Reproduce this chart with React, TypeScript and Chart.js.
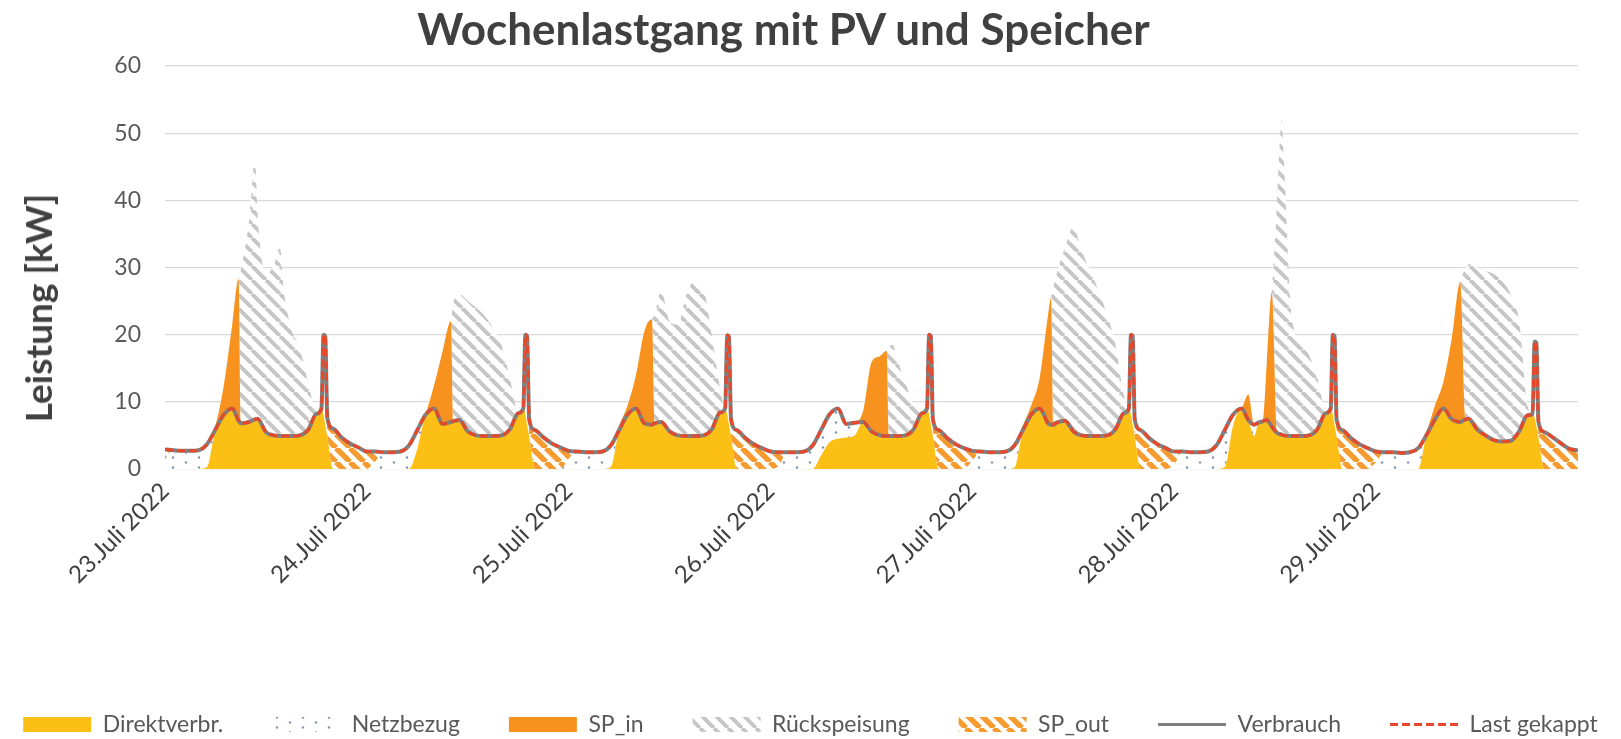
import React, { useEffect, useRef } from 'react';
import { Chart, registerables } from 'chart.js';

Chart.register(...registerables);

const dayLabels = ['23.Juli 2022', '24.Juli 2022', '25.Juli 2022', '26.Juli 2022', '27.Juli 2022', '28.Juli 2022', '29.Juli 2022'];

// hours since 23.07.2022 00:00
const hours = [
  0, 1, 2, 3, 4, 5, 6, 7, 8, 8.75, 9, 10, 10.7, 11, 12, 13, 13.7, 14, 15, 16, 17, 18, 18.6, 18.85, 19.05, 19.3, 20, 21, 22, 23,
  24, 25, 26, 27, 28, 29, 30, 31, 32, 33, 34, 34.25, 35, 36, 37, 38, 39, 40, 41, 42, 42.6, 42.85, 43.05, 43.3, 44, 45, 46, 47,
  48, 49, 50, 51, 52, 53, 54, 55, 56, 57, 57.9, 58.2, 59, 60, 61, 62, 63, 64, 65, 66, 66.6, 66.85, 67.05, 67.3, 68, 69, 70, 71,
  72, 73, 74, 75, 76, 77, 78, 79, 80, 81, 82, 83, 84, 85, 85.8, 86.05, 86.5, 87, 88, 89, 90, 90.6, 90.85, 91.05, 91.3, 92, 93, 94, 95,
  96, 97, 98, 99, 100, 101, 102, 103, 104, 105, 105.35, 105.6, 106, 107, 108, 109, 110, 111, 112, 113, 114, 114.6, 114.85, 115.05, 115.3, 116, 117, 118, 119,
  120, 121, 122, 123, 124, 125, 126, 127, 128, 128.8, 129.5, 130, 130.5, 131, 131.6, 132.2, 132.8, 133, 134, 135, 136, 137, 138, 138.6, 138.85, 139.05, 139.3, 140, 141, 142, 143,
  144, 145, 146, 147, 148, 149, 150, 151, 152, 153, 154, 154.6, 155, 156, 157, 158, 159, 160, 161, 162, 162.6, 162.85, 163.05, 163.3, 164, 165, 166, 167, 168,
];

const verbrauch = [
  2.9, 2.8, 2.7, 2.7, 2.8, 3.7, 5.9, 8.1, 9.0, 7.2, 6.8, 7.0, 7.4, 7.5, 5.5, 5.0, 4.9, 4.9, 4.9, 5.0, 5.8, 8.2, 9.0, 20.0, 19.8, 7.6, 6.0, 4.7, 3.8, 3.2,
  2.6, 2.6, 2.5, 2.5, 2.6, 3.5, 5.8, 8.1, 9.0, 6.7, 7.0, 7.1, 7.3, 5.6, 5.0, 4.9, 4.9, 5.0, 5.9, 8.3, 9.0, 20.0, 19.8, 7.4, 5.8, 4.7, 3.8, 3.2,
  2.7, 2.6, 2.5, 2.5, 2.6, 3.5, 5.8, 8.1, 9.0, 6.8, 6.6, 6.8, 7.0, 5.6, 5.0, 4.9, 4.9, 5.0, 5.9, 8.4, 9.0, 19.9, 19.7, 7.4, 5.8, 4.6, 3.7, 3.1,
  2.6, 2.5, 2.5, 2.5, 2.6, 3.5, 5.8, 8.1, 9.0, 6.7, 6.9, 7.0, 5.6, 5.0, 4.9, 4.9, 4.9, 4.9, 5.0, 5.9, 8.3, 9.0, 20.0, 19.8, 7.4, 5.8, 4.6, 3.7, 3.1,
  2.7, 2.6, 2.5, 2.5, 2.6, 3.5, 5.8, 8.1, 9.0, 6.8, 6.6, 6.6, 6.9, 7.2, 5.6, 5.0, 4.9, 4.9, 5.0, 5.9, 8.3, 9.0, 20.0, 19.8, 7.4, 5.8, 4.6, 3.7, 3.1,
  2.6, 2.6, 2.5, 2.5, 2.6, 3.5, 5.8, 8.1, 9.0, 7.3, 6.6, 6.9, 7.1, 7.3, 6.3, 5.4, 5.1, 5.0, 4.9, 4.9, 5.0, 5.9, 8.3, 9.0, 20.0, 19.8, 7.4, 5.8, 4.6, 3.7, 3.1,
  2.6, 2.5, 2.5, 2.4, 2.5, 3.1, 5.1, 7.4, 9.0, 7.4, 7.0, 7.4, 7.5, 5.9, 5.0, 4.3, 4.1, 4.2, 5.6, 8.0, 8.2, 19.0, 18.8, 7.0, 5.5, 4.7, 3.8, 3.0, 2.8,
];

const lastGekappt = [
  2.9, 2.8, 2.7, 2.7, 2.8, 3.7, 5.9, 8.1, 9.0, 7.2, 6.8, 7.0, 7.4, 7.5, 5.5, 5.0, 4.9, 4.9, 4.9, 5.0, 5.8, 8.2, 9.0, 20.0, 19.8, 7.6, 6.0, 4.7, 3.8, 3.2,
  2.6, 2.6, 2.5, 2.5, 2.6, 3.5, 5.8, 8.1, 9.0, 6.7, 7.0, 7.1, 7.3, 5.6, 5.0, 4.9, 4.9, 5.0, 5.9, 8.3, 9.0, 20.0, 19.8, 7.4, 5.8, 4.7, 3.8, 3.2,
  2.7, 2.6, 2.5, 2.5, 2.6, 3.5, 5.8, 8.1, 9.0, 6.8, 6.6, 6.8, 7.0, 5.6, 5.0, 4.9, 4.9, 5.0, 5.9, 8.4, 9.0, 19.9, 19.7, 7.4, 5.8, 4.6, 3.7, 3.1,
  2.6, 2.5, 2.5, 2.5, 2.6, 3.5, 5.8, 8.1, 9.0, 6.7, 6.9, 7.0, 5.6, 5.0, 4.9, 4.9, 4.9, 4.9, 5.0, 5.9, 8.3, 9.0, 20.0, 19.8, 7.4, 5.8, 4.6, 3.7, 3.1,
  2.7, 2.6, 2.5, 2.5, 2.6, 3.5, 5.8, 8.1, 9.0, 6.8, 6.6, 6.6, 6.9, 7.2, 5.6, 5.0, 4.9, 4.9, 5.0, 5.9, 8.3, 9.0, 20.0, 19.8, 7.4, 5.8, 4.6, 3.7, 3.1,
  2.6, 2.6, 2.5, 2.5, 2.6, 3.5, 5.8, 8.1, 9.0, 7.3, 6.6, 6.9, 7.1, 7.3, 6.3, 5.4, 5.1, 5.0, 4.9, 4.9, 5.0, 5.9, 8.3, 9.0, 20.0, 19.8, 7.4, 5.8, 4.6, 3.7, 3.1,
  2.6, 2.5, 2.5, 2.4, 2.5, 3.1, 5.1, 7.4, 9.0, 7.4, 7.0, 7.4, 7.5, 5.9, 5.0, 4.3, 4.1, 4.2, 5.6, 8.0, 8.2, 19.0, 18.8, 7.0, 5.5, 4.7, 3.8, 3.0, 2.8,
];

const direktverbr = [
  0, 0, 0, 0, 0, 0.3, 5.9, 8.1, 9.0, 7.2, 6.8, 7.0, 7.4, 7.5, 5.5, 5.0, 4.9, 4.9, 4.9, 5.0, 5.8, 8.2, 9.0, 8.1, 6.6, 4.8, 0, 0, 0, 0,
  0, 0, 0, 0, 0, 0, 3.0, 8.1, 9.0, 6.7, 7.0, 7.1, 7.3, 5.6, 5.0, 4.9, 4.9, 5.0, 5.9, 8.3, 9.0, 8.1, 6.6, 4.8, 0, 0, 0, 0,
  0, 0, 0, 0, 0, 0.3, 5.8, 8.1, 9.0, 6.8, 6.6, 6.8, 7.0, 5.6, 5.0, 4.9, 4.9, 5.0, 5.9, 8.4, 9.0, 8.1, 6.6, 4.8, 0, 0, 0, 0,
  0, 0, 0, 0, 0, 0, 2.0, 4.0, 4.5, 4.7, 5.0, 7.0, 5.6, 5.0, 4.9, 4.9, 4.9, 4.9, 5.0, 5.9, 8.3, 9.0, 8.1, 6.6, 4.8, 0, 0, 0, 0,
  0, 0, 0, 0, 0, 0.2, 5.8, 8.1, 9.0, 6.8, 6.6, 6.6, 6.9, 7.2, 5.6, 5.0, 4.9, 4.9, 5.0, 5.9, 8.3, 9.0, 8.1, 6.6, 4.8, 0, 0, 0, 0,
  0, 0, 0, 0, 0, 0, 0.3, 6.5, 9.0, 7.3, 4.9, 6.9, 7.1, 7.3, 6.3, 5.4, 5.1, 5.0, 4.9, 4.9, 5.0, 5.9, 8.3, 9.0, 8.1, 6.6, 4.8, 0, 0, 0, 0,
  0, 0, 0, 0, 0, 0, 5.1, 7.4, 9.0, 7.4, 7.0, 7.4, 7.5, 5.9, 5.0, 4.3, 4.1, 4.2, 5.6, 8.0, 8.2, 7.6, 6.4, 4.6, 0, 0, 0, 0, 0,
];

const netzbezug = [
  1.4, 2.8, 2.7, 2.7, 2.8, 3.4, 0, 0, 0, 0, 0, 0, 0, 0, 0, 0, 0, 0, 0, 0, 0, 0, 0, 11.9, 13.2, 0, 0, 0, 0, 0,
  0, 1.1, 2.5, 2.5, 2.6, 3.5, 2.8, 0, 0, 0, 0, 0, 0, 0, 0, 0, 0, 0, 0, 0, 0, 11.9, 13.2, 0, 0, 0, 0, 0,
  1.5, 2.6, 2.5, 2.5, 2.6, 3.2, 0, 0, 0, 0, 0, 0, 0, 0, 0, 0, 0, 0, 0, 0, 0, 11.8, 13.1, 0, 0, 0, 0, 0,
  0, 0.5, 2.5, 2.5, 2.6, 3.5, 3.8, 4.1, 4.5, 2.0, 1.9, 0, 0, 0, 0, 0, 0, 0, 0, 0, 0, 0, 11.9, 13.2, 0, 0, 0, 0, 0,
  1.2, 2.6, 2.5, 2.5, 2.6, 3.3, 0, 0, 0, 0, 0, 0, 0, 0, 0, 0, 0, 0, 0, 0, 0, 0, 11.9, 13.2, 0, 0, 0, 0, 0,
  0.6, 2.6, 2.5, 2.5, 2.6, 3.5, 5.5, 1.6, 0, 0, 1.7, 0, 0, 0, 0, 0, 0, 0, 0, 0, 0, 0, 0, 0, 11.9, 13.2, 0, 0, 0, 0, 0,
  1.0, 2.5, 2.5, 2.4, 2.5, 3.1, 0, 0, 0, 0, 0, 0, 0, 0, 0, 0, 0, 0, 0, 0, 0, 11.4, 12.4, 0, 0, 0, 0, 0, 0,
];

const spIn = [
  0, 0, 0, 0, 0, 0, 0.6, 4.4, 12.5, 21.1, 0, 0, 0, 0, 0, 0, 0, 0, 0, 0, 0, 0, 0, 0, 0, 0, 0, 0, 0, 0,
  0, 0, 0, 0, 0, 0, 0, 0.2, 3.5, 10.8, 15.0, 0, 0, 0, 0, 0, 0, 0, 0, 0, 0, 0, 0, 0, 0, 0, 0, 0,
  0, 0, 0, 0, 0, 0, 0.7, 1.4, 5.0, 13.7, 15.7, 0, 0, 0, 0, 0, 0, 0, 0, 0, 0, 0, 0, 0, 0, 0, 0, 0,
  0, 0, 0, 0, 0, 0, 0, 0, 0, 0, 0, 1.6, 10.3, 11.8, 12.7, 0, 0, 0, 0, 0, 0, 0, 0, 0, 0, 0, 0, 0, 0,
  0, 0, 0, 0, 0, 0, 0.7, 1.4, 4.6, 16.2, 18.9, 0, 0, 0, 0, 0, 0, 0, 0, 0, 0, 0, 0, 0, 0, 0, 0, 0, 0,
  0, 0, 0, 0, 0, 0, 0, 0, 0, 3.8, 0, 0, 0, 8.5, 20.0, 0, 0, 0, 0, 0, 0, 0, 0, 0, 0, 0, 0, 0, 0, 0, 0,
  0, 0, 0, 0, 0, 0, 0.5, 2.1, 4.0, 12.1, 20.8, 0, 0, 0, 0, 0, 0, 0, 0, 0, 0, 0, 0, 0, 0, 0, 0, 0, 0,
];

const rueckspeisung = [
  0, 0, 0, 0, 0, 0, 0, 0, 0, 0, 22.7, 30.0, 38.6, 30.5, 23.5, 25.5, 28.1, 23.1, 16.1, 13.0, 7.2, 0.6, 0, 0, 0, 0, 0, 0, 0, 0,
  0, 0, 0, 0, 0, 0, 0, 0, 0, 0, 0, 17.4, 18.7, 19.4, 19.0, 17.9, 16.1, 13.5, 7.6, 0.3, 0, 0, 0, 0, 0, 0, 0, 0,
  0, 0, 0, 0, 0, 0, 0, 0, 0, 0, 0, 16.2, 19.5, 16.4, 16.5, 21.1, 23.1, 22.0, 14.1, 3.6, 0.1, 0, 0, 0, 0, 0, 0, 0,
  0, 0, 0, 0, 0, 0, 0, 0, 0, 0, 0, 0, 0, 0, 0, 13.2, 13.6, 11.6, 8.0, 3.6, 0.2, 0, 0, 0, 0, 0, 0, 0, 0,
  0, 0, 0, 0, 0, 0, 0, 0, 0, 0, 0, 20.4, 22.1, 25.8, 30.4, 27.5, 24.6, 21.6, 18.0, 12.6, 2.7, 0, 0, 0, 0, 0, 0, 0, 0,
  0, 0, 0, 0, 0, 0, 0, 0, 0, 0, 0, 0, 0, 0, 0, 33.6, 46.9, 42.0, 17.6, 14.1, 12.0, 7.6, 0.7, 0, 0, 0, 0, 0, 0, 0, 0,
  0, 0, 0, 0, 0, 0, 0, 0, 0, 0, 0, 22.4, 23.0, 24.1, 24.5, 24.7, 23.9, 21.8, 16.4, 1.5, 0, 0, 0, 0, 0, 0, 0, 0, 0,
];

const spOut = [
  1.5, 0, 0, 0, 0, 0, 0, 0, 0, 0, 0, 0, 0, 0, 0, 0, 0, 0, 0, 0, 0, 0, 0, 0, 0, 2.8, 6.0, 4.7, 3.8, 3.2,
  2.6, 1.5, 0, 0, 0, 0, 0, 0, 0, 0, 0, 0, 0, 0, 0, 0, 0, 0, 0, 0, 0, 0, 0, 2.6, 5.8, 4.7, 3.8, 3.2,
  1.2, 0, 0, 0, 0, 0, 0, 0, 0, 0, 0, 0, 0, 0, 0, 0, 0, 0, 0, 0, 0, 0, 0, 2.6, 5.8, 4.6, 3.7, 3.1,
  2.6, 2.0, 0, 0, 0, 0, 0, 0, 0, 0, 0, 0, 0, 0, 0, 0, 0, 0, 0, 0, 0, 0, 0, 0, 2.6, 5.8, 4.6, 3.7, 3.1,
  1.5, 0, 0, 0, 0, 0, 0, 0, 0, 0, 0, 0, 0, 0, 0, 0, 0, 0, 0, 0, 0, 0, 0, 0, 2.6, 5.8, 4.6, 3.7, 3.1,
  2.0, 0, 0, 0, 0, 0, 0, 0, 0, 0, 0, 0, 0, 0, 0, 0, 0, 0, 0, 0, 0, 0, 0, 0, 0, 0, 2.6, 5.8, 4.6, 3.7, 3.1,
  1.6, 0, 0, 0, 0, 0, 0, 0, 0, 0, 0, 0, 0, 0, 0, 0, 0, 0, 0, 0, 0, 0, 0, 2.4, 5.5, 4.7, 3.8, 3.0, 2.8,
];

const YELLOW = '#FBBF16';
const ORANGE = '#F7921E';

function makeHatch(ctx: CanvasRenderingContext2D, color: string, lw: number, size: number) {
  const c = document.createElement('canvas');
  c.width = size;
  c.height = size;
  const g = c.getContext('2d')!;
  g.fillStyle = '#ffffff';
  g.fillRect(0, 0, size, size);
  g.strokeStyle = color;
  g.lineWidth = lw;
  g.beginPath();
  for (const o of [-size, 0, size]) {
    g.moveTo(o, 0);
    g.lineTo(o + size, size);
  }
  g.stroke();
  return ctx.createPattern(c, 'repeat')!;
}

function makeDots(ctx: CanvasRenderingContext2D) {
  const c = document.createElement('canvas');
  c.width = 26;
  c.height = 10;
  const g = c.getContext('2d')!;
  g.fillStyle = '#ffffff';
  g.fillRect(0, 0, 26, 10);
  g.fillStyle = '#7F95B5';
  g.beginPath();
  g.arc(4, 2.5, 1.2, 0, Math.PI * 2);
  g.fill();
  g.beginPath();
  g.arc(17, 7.5, 1.2, 0, Math.PI * 2);
  g.fill();
  return ctx.createPattern(c, 'repeat')!;
}

export default function App() {
  const ref = useRef<HTMLCanvasElement>(null);

  useEffect(() => {
    document.body.style.margin = '0';
    const canvas = ref.current!;
    const ctx = canvas.getContext('2d')!;
    Chart.defaults.font.family = 'Lato, sans-serif';

    const grayHatch = makeHatch(ctx, '#C6C6C6', 4, 14);
    const orangeHatch = makeHatch(ctx, '#F59B2F', 5.5, 14);
    const dots = makeDots(ctx);

    const pts = (arr: number[]) => hours.map((h, i) => ({ x: h, y: arr[i] }));
    const area = (label: string, data: number[], bg: any, fill: any) => ({
      label,
      data: pts(data),
      backgroundColor: bg,
      borderColor: 'rgba(0,0,0,0)',
      borderWidth: 0,
      fill,
      stack: 'a',
      order: 2,
      pointRadius: 0,
      pointHoverRadius: 0,
      pointStyle: 'rect',
      cubicInterpolationMode: 'monotone',
      legendLineWidth: 0,
    });

    const chart = new Chart(ctx, {
      type: 'line',
      data: {
        datasets: [
          area('Direktverbr.', direktverbr, YELLOW, 'origin'),
          area('Netzbezug', netzbezug, dots, '-1'),
          area('SP_in', spIn, ORANGE, '-1'),
          area('Rückspeisung', rueckspeisung, grayHatch, '-1'),
          area('SP_out', spOut, orangeHatch, '-1'),
          {
            label: 'Verbrauch',
            data: pts(verbrauch),
            borderColor: '#7F7F7F',
            backgroundColor: '#7F7F7F',
            borderWidth: 4,
            fill: false,
            stack: 'v',
            order: 1,
            pointRadius: 0,
            pointHoverRadius: 0,
            pointStyle: 'line',
            cubicInterpolationMode: 'monotone',
            legendLineWidth: 3,
          },
          {
            label: 'Last gekappt',
            data: pts(lastGekappt),
            borderColor: '#E9472A',
            backgroundColor: '#E9472A',
            borderWidth: 3,
            borderDash: [8, 4],
            fill: false,
            stack: 'l',
            order: 0,
            pointRadius: 0,
            pointHoverRadius: 0,
            pointStyle: 'line',
            cubicInterpolationMode: 'monotone',
            legendLineWidth: 3,
          },
        ] as any,
      },
      options: {
        animation: false,
        responsive: false,
        maintainAspectRatio: false,
        events: [],
        layout: { padding: { top: 66, left: -30, right: -30, bottom: -7 } },
        plugins: {
          tooltip: { enabled: false },
          title: { display: false },
          legend: {
            display: true,
            position: 'bottom',
            labels: {
              usePointStyle: true,
              pointStyleWidth: 68,
              boxHeight: 15,
              padding: 49,
              color: '#595959',
              font: { size: 23 },
              generateLabels: (c: any) =>
                c.data.datasets.map((ds: any, i: number) => ({
                  text: ds.label,
                  fillStyle: ds.backgroundColor,
                  strokeStyle: ds.borderColor,
                  lineWidth: ds.legendLineWidth,
                  lineDash: ds.borderDash || [],
                  lineCap: 'butt',
                  pointStyle: ds.pointStyle,
                  hidden: false,
                  datasetIndex: i,
                  fontColor: '#595959',
                })),
            },
          },
        },
        scales: {
          x: {
            type: 'linear',
            min: 0,
            max: 168,
            grid: { display: false, drawTicks: false },
            border: { display: false },
            ticks: {
              stepSize: 24,
              autoSkip: false,
              maxRotation: 45,
              minRotation: 45,
              padding: 8,
              color: '#404040',
              font: { size: 24 },
              callback: (v: any) => dayLabels[Math.round(Number(v) / 24)] ?? '',
            },
            afterFit: (s: any) => {
              s.height = 195;
            },
          },
          y: {
            type: 'linear',
            stacked: true,
            min: 0,
            max: 60,
            ticks: { stepSize: 10, padding: 24, color: '#595959', font: { size: 23 } },
            grid: { color: '#D9D9D9', lineWidth: 1.3, drawTicks: false },
            border: { display: false },
            title: { display: false },
            afterFit: (s: any) => {
              s.width = 195;
            },
          },
          yR: {
            type: 'linear',
            position: 'right',
            display: true,
            grid: { display: false, drawTicks: false },
            border: { display: false },
            ticks: { display: false },
            afterFit: (s: any) => {
              s.width = 73;
            },
          },
        },
      } as any,
    });

    return () => chart.destroy();
  }, []);

  return (
    <div style={{ position: 'relative', width: 1621, height: 739, background: '#ffffff', overflow: 'hidden' }}>
      <div
        style={{
          position: 'absolute',
          left: 0,
          top: 6,
          width: 1567,
          textAlign: 'center',
          fontFamily: 'Lato, sans-serif',
          fontWeight: 700,
          fontSize: 44,
          lineHeight: '44px',
          color: '#404040',
          whiteSpace: 'nowrap',
        }}
      >
        Wochenlastgang mit PV und Speicher
      </div>
      <div
        style={{
          position: 'absolute',
          left: 38,
          top: 308,
          transform: 'translate(-50%, -50%) rotate(-90deg)',
          fontFamily: 'Lato, sans-serif',
          fontWeight: 700,
          fontSize: 37,
          lineHeight: '44px',
          color: '#404040',
          whiteSpace: 'nowrap',
        }}
      >
        Leistung [kW]
      </div>
      <canvas ref={ref} width={1621} height={739} style={{ display: 'block' }} />
    </div>
  );
}
